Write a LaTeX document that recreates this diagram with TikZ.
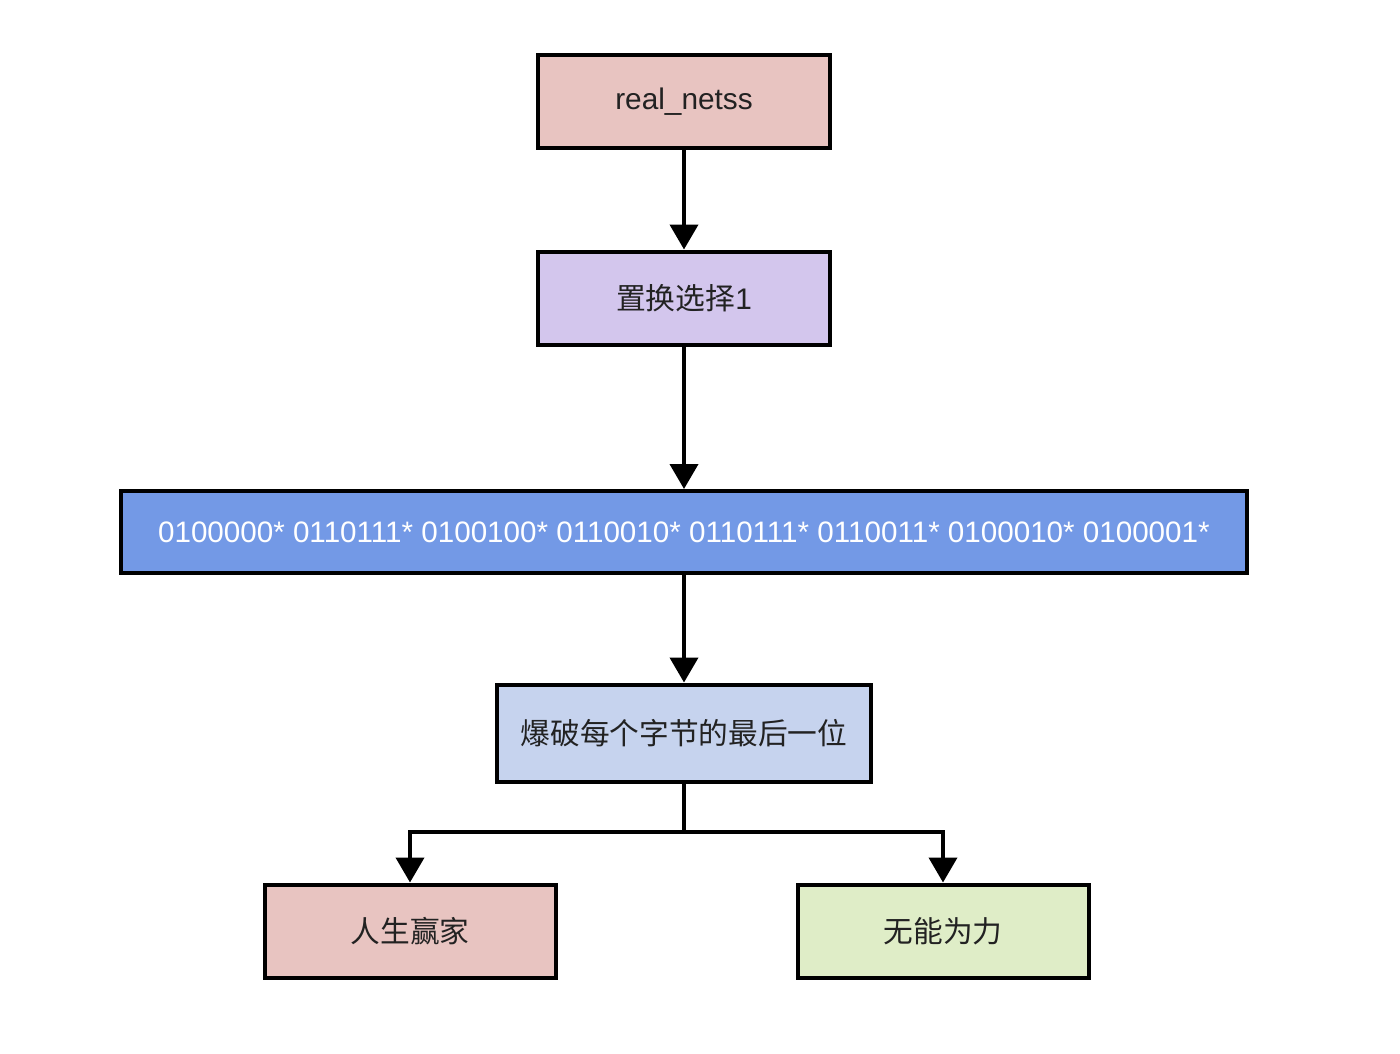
\documentclass[tikz,border=0pt]{standalone}
\usepackage{fontspec}
\setmainfont{Liberation Sans}
\newfontfamily\cjk{Noto Sans CJK SC}
\usetikzlibrary{arrows.meta}
\definecolor{pinkfill}{HTML}{E8C4C1}
\definecolor{lilacfill}{HTML}{D3C6ED}
\definecolor{bluefill}{HTML}{7399E6}
\definecolor{paleblue}{HTML}{C6D3EE}
\definecolor{greenfill}{HTML}{DFEDC7}
\definecolor{txt}{HTML}{222222}
\begin{document}
\begin{tikzpicture}[x=1pt,y=1pt,
  box/.style={draw=black, line width=4pt, rectangle, inner sep=0pt, text=txt,
    font=\fontsize{29.8}{34}\selectfont},
  cjkbox/.style={box, font=\cjk\fontsize{29.7}{34}\selectfont},
  arr/.style={line width=4pt, -{Triangle[length=25pt,width=28pt]}},
  conn/.style={line width=4pt}]
\useasboundingbox (0,0) rectangle (1400,-1054);
\fill[white] (0,0) rectangle (1400,-1054);
\node[box, fill=pinkfill, minimum width=292pt, minimum height=93pt] (a) at (684,-102) {real\_netss};
\node[box, fill=lilacfill, minimum width=292pt, minimum height=93pt] (b) at (684,-298) {{\cjk 置换选择}1};
\node[box, fill=bluefill, text=white, minimum width=1126pt, minimum height=82pt,
  font=\fontsize{29.6}{34}\selectfont] (c) at (684,-532)
  {0100000* 0110111* 0100100* 0110010* 0110111* 0110011* 0100010* 0100001*};
\node[cjkbox, fill=paleblue, minimum width=374pt, minimum height=97pt] (d) at (684,-733) {爆破每个字节的最后一位};
\node[cjkbox, fill=pinkfill, minimum width=291pt, minimum height=93pt] (e) at (410,-931) {人生赢家};
\node[cjkbox, fill=greenfill, minimum width=291pt, minimum height=93pt] (f) at (943,-931) {无能为力};
\coordinate (j) at (684,-832);
\draw[arr] (a) -- (b);
\draw[arr] (b) -- (c);
\draw[arr] (c) -- (d);
\draw[conn] (d) -- (j);
\draw[arr] (j) -| (e);
\draw[arr] (j) -| (f);
\end{tikzpicture}
\end{document}
